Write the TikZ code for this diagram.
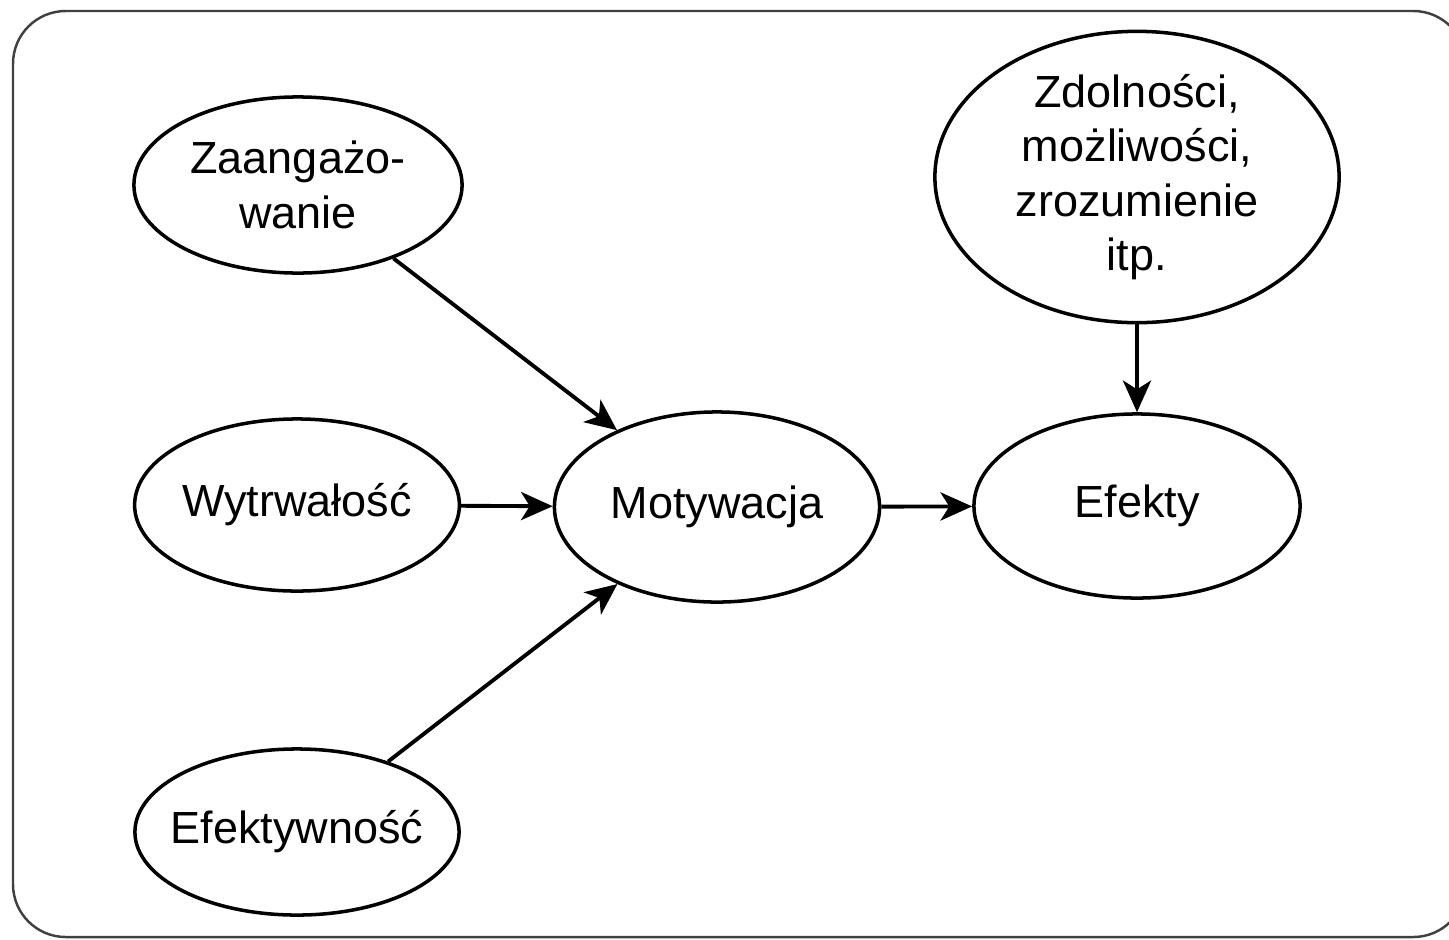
\documentclass[tikz,border=0pt]{standalone}
\usepackage{fontspec}
\setmainfont{Liberation Sans}
\usetikzlibrary{shapes.geometric,arrows.meta}

\begin{document}
\begin{tikzpicture}[x=0.01cm, y=-0.01cm,
    bubble/.style={draw, ellipse, line width=1pt, inner sep=0pt, align=center,
        font=\fontsize{12.8}{15.5}\selectfont},
    link/.style={-{Stealth[length=9pt, width=8pt, inset=2.5pt]}, line width=1.1pt}]
    \useasboundingbox (0,0) rectangle (1449,939);

    % Frame
    \draw[black!75, line width=0.7pt, rounded corners=15pt] (13,11) rectangle (1466,937);

    % Define nodes for the diagram
    \node[bubble, minimum width=3.28cm, minimum height=1.76cm] (zaang) at (298,185) {Zaangażo-\\wanie};
    \node[bubble, minimum width=3.24cm, minimum height=1.72cm] (wytrw) at (297,505) {Wytrwałość};
    \node[bubble, minimum width=3.24cm, minimum height=1.66cm, inner xsep=-6pt] (efektyw) at (297,832) {Efektywność};

    \node[bubble, minimum width=3.25cm, minimum height=1.90cm] (motyw) at (717,507) {Motywacja};
    \node[bubble, minimum width=3.26cm, minimum height=1.84cm] (efekty) at (1137,506) {Efekty};
    \node[bubble, minimum width=4.04cm, minimum height=2.48cm] (zdoln) at (1137,177)
        {Zdolności,\\możliwości,\\zrozumienie\\itp.};

    % Draw the connections
    \draw[link] (zaang) -- (motyw);
    \draw[link] (wytrw) -- (motyw);
    \draw[link] (efektyw) -- (motyw);
    \draw[link] (motyw) -- (efekty);
    \draw[link] (zdoln) -- (efekty);
\end{tikzpicture}
\end{document}
